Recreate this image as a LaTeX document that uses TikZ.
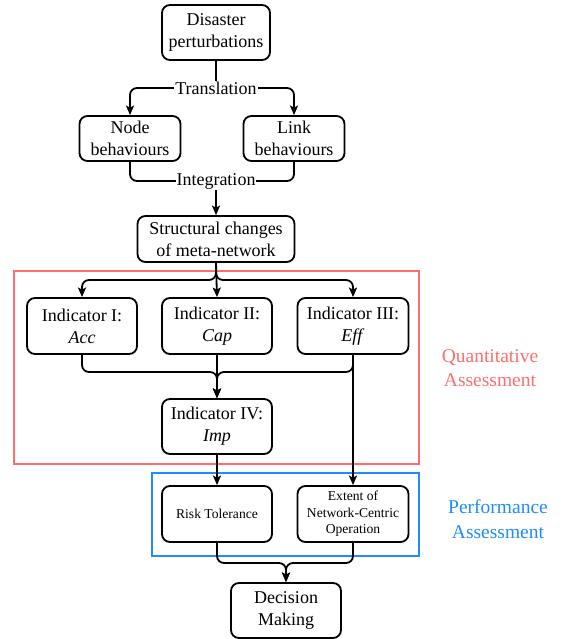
\documentclass[tikz,border=0pt]{standalone}
\usepackage{fontspec}
\setmainfont{Liberation Serif}
\usetikzlibrary{arrows.meta}
\definecolor{qred}{RGB}{255,110,110}
\definecolor{pblue}{RGB}{30,140,250}
\tikzset{
  box/.style={draw, line width=1.8pt, rounded corners=8pt, align=center, inner sep=2pt, font=\fontsize{18}{22}\selectfont},
  sbox/.style={box, font=\fontsize{13.6}{16.5}\selectfont},
  lbl/.style={fill=white, inner sep=1pt, font=\fontsize{18}{22}\selectfont},
  con/.style={line width=1.8pt, rounded corners=7pt},
  arr/.style={con, -{Stealth[length=9.5pt,width=8pt,inset=2pt]}},
  grp/.style={line width=1.6pt},
  grplbl/.style={align=center, font=\fontsize{19.5}{24.5}\selectfont}
}
\begin{document}
\begin{tikzpicture}[x=1pt,y=-1pt]
\useasboundingbox (0,0) rectangle (561,639);
% groups
\draw[grp, qred] (14,271) rectangle (419,464);
\draw[grp, pblue] (152,473) rectangle (419,556);
\node[grplbl, text=qred] (qlab) at (490,368) {Quantitative\\Assessment};
\node[grplbl, text=pblue] (plab) at (498,519) {Performance\\Assessment};
% nodes
\node[box, minimum width=108pt, minimum height=55pt] (dis) at (216,32.5) {Disaster\\perturbations};
\node[box, minimum width=101pt, minimum height=45pt] (nb) at (130,138.5) {Node\\behaviours};
\node[box, minimum width=101pt, minimum height=45pt] (lb) at (294,138.5) {Link\\behaviours};
\node[box, minimum width=157pt, minimum height=46pt] (st) at (216,239) {Structural changes\\of meta-network};
\node[box, minimum width=110pt, minimum height=56pt] (i1) at (82,326) {Indicator I:\\\textit{Acc}};
\node[box, minimum width=110pt, minimum height=56pt] (i2) at (217,326) {Indicator II:\\\textit{Cap}};
\node[box, minimum width=111pt, minimum height=56pt] (i3) at (353,326) {Indicator III:\\\textit{Eff}};
\node[box, minimum width=110pt, minimum height=55pt] (i4) at (217,426.5) {Indicator IV:\\\textit{Imp}};
\node[sbox, minimum width=110pt, minimum height=56pt] (rt) at (217,514) {Risk Tolerance};
\node[sbox, minimum width=111pt, minimum height=56pt] (ex) at (353,514) {Extent of\\Network-Centric\\Operation};
\node[box, minimum width=110pt, minimum height=55pt] (dm) at (286,610.5) {Decision\\Making};
% connectors
\coordinate (tr) at (216,88);
\coordinate (ig) at (216,181);
\coordinate (sp) at (216,280);
\coordinate (mj) at (217,372);
\coordinate (dj) at (286,563);
\draw[con] (dis.south) -- (tr);
\draw[arr] (tr) -| (nb.north);
\draw[arr] (tr) -| (lb.north);
\node[lbl] (trl) at (tr) {Translation};
\draw[con] (nb.south) |- (ig);
\draw[con] (lb.south) |- (ig);
\draw[arr] (ig) -- (st.north);
\node[lbl] (igl) at (ig) {Integration};
\draw[arr] (st.south) |- (sp) -| (i1.north);
\draw[arr] (st.south) |- (sp) -| (i3.north);
\draw[arr] (st.south) -- (i2.north);
\draw[arr] (i1.south) |- (mj) -- (i4.north);
\draw[arr] (i3.south) |- (mj) -- (i4.north);
\draw[arr] (i2.south) -- (i4.north);
\draw[arr] (i3.south) -- (ex.north);
\draw[arr] (i4.south) -- (rt.north);
\draw[arr] (rt.south) |- (dj) -- (dm.north);
\draw[arr] (ex.south) |- (dj) -- (dm.north);
\end{tikzpicture}
\end{document}
